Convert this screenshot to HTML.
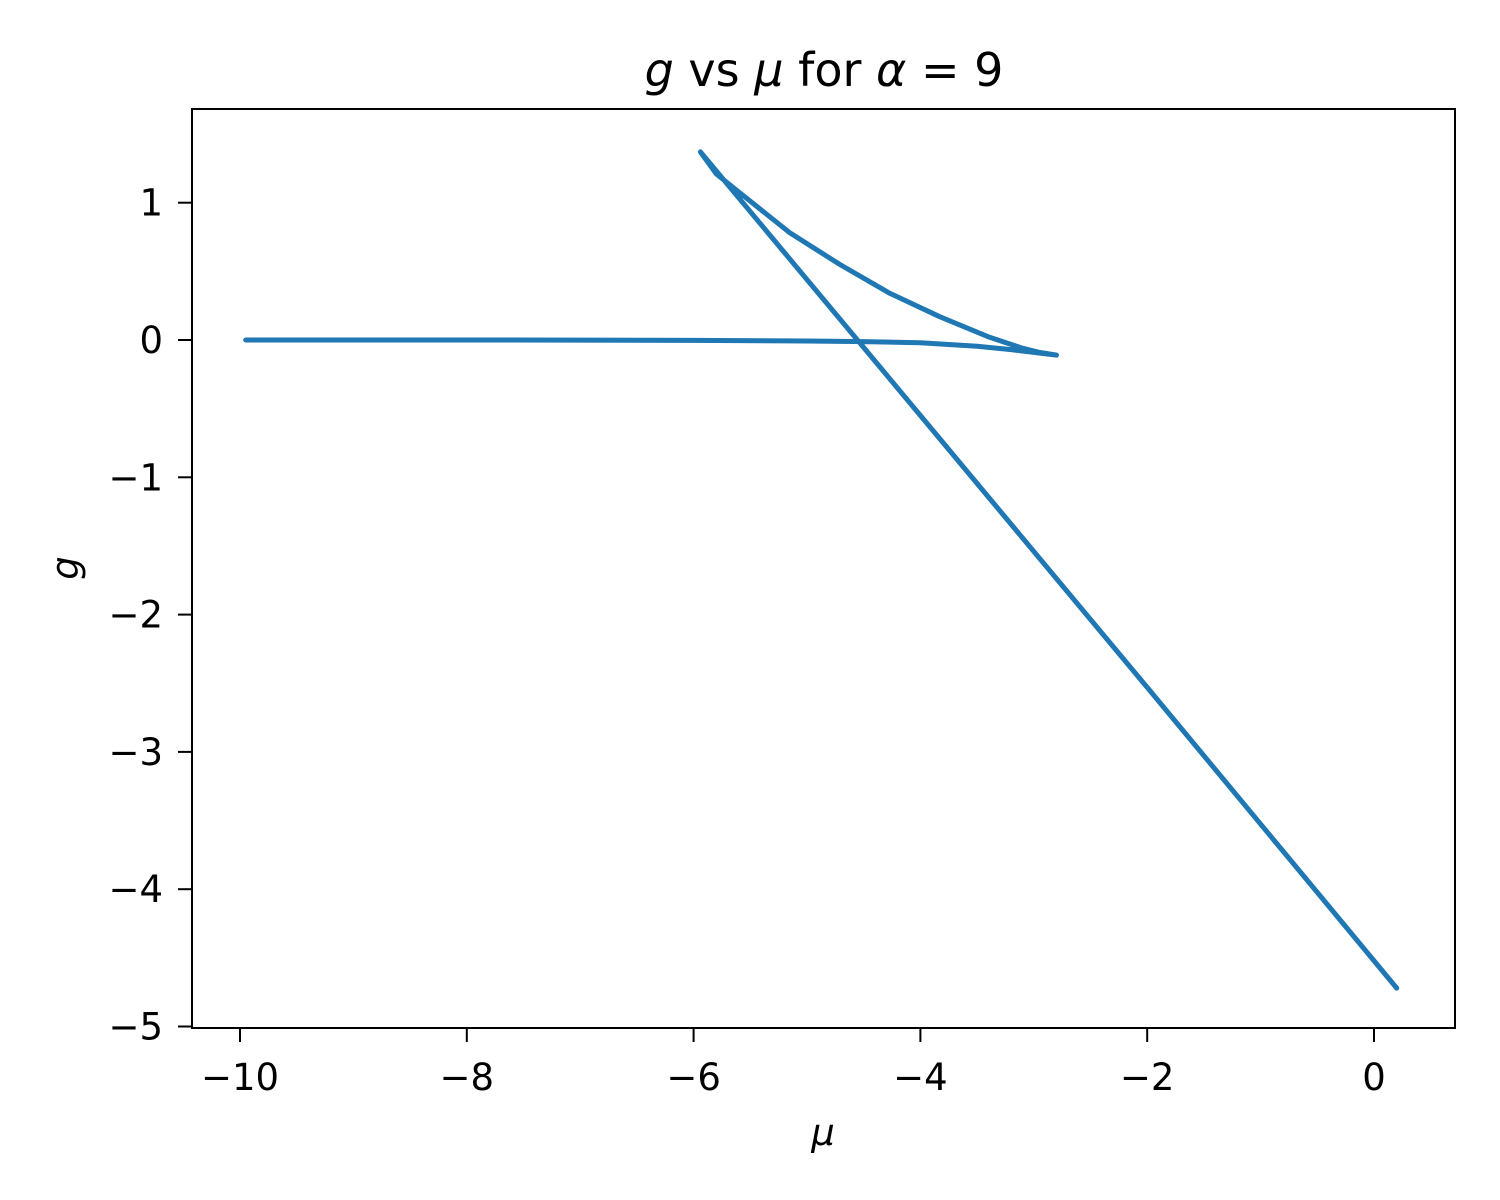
<!DOCTYPE html>
<html><head><meta charset="utf-8"><style>
body{margin:0;background:#fff;}
svg{display:block;font-family:"DejaVu Sans","Liberation Sans",sans-serif;}
</style></head><body>
<svg id="chart" width="1500" height="1200" viewBox="0 0 1500 1200">
<rect width="1500" height="1200" fill="#fff"/>
<g id="ticks"></g>
<path id="curve" fill="none" stroke="#1f77b4" stroke-width="5" stroke-linejoin="round" stroke-linecap="round"/>
<rect x="192" y="109" width="1263" height="919" fill="none" stroke="#000" stroke-width="2"/>
<text x="824" y="86" font-size="46" text-anchor="middle"><tspan font-style="italic">g</tspan> vs <tspan font-style="italic">μ</tspan> for <tspan font-style="italic">α</tspan> = 9</text>
<text x="823" y="1145" font-size="37" text-anchor="middle" font-style="italic">μ</text>
<text x="0" y="0" font-size="37" text-anchor="middle" font-style="italic" transform="translate(78,568) rotate(-90)">g</text>
</svg>
<script>
const xTicks=[-10,-8,-6,-4,-2,0];
const yTicks=[1,0,-1,-2,-3,-4,-5];
const muVals=[-9.95,-8,-7,-6,-5,-4.5,-4,-3.5,-3.2,-2.8,-2.95,-3.1,-3.39,-3.83,-4.27,-4.71,-5.15,-5.59,-5.8,-5.94,-4,-2,0.2];
const gVals=[0,0,-0.001,-0.003,-0.007,-0.012,-0.02,-0.045,-0.07,-0.11,-0.09,-0.06,0.02,0.17,0.34,0.55,0.78,1.07,1.21,1.37,-0.55,-2.53,-4.72];
function X(v){return 240+(v+10)*113.4;}
function Y(v){return 340-v*137.3;}
const NS="http://www.w3.org/2000/svg";
const tg=document.getElementById('ticks');
xTicks.forEach(t=>{
  const l=document.createElementNS(NS,'line');
  
  
  l.setAttribute('x1',X(t));l.setAttribute('x2',X(t));l.setAttribute('y1',1028);l.setAttribute('y2',1042);l.setAttribute('stroke','#000');l.setAttribute('stroke-width','2');
  tg.appendChild(l);
  const tx=document.createElementNS(NS,'text');
  
  
  tx.setAttribute('x',X(t));tx.setAttribute('y',1090);tx.setAttribute('font-size','37');tx.setAttribute('text-anchor','middle');
  tx.textContent=(t<0?'−':'')+Math.abs(t);
  tg.appendChild(tx);
});
yTicks.forEach(t=>{
  const l=document.createElementNS(NS,'line');
  
  
  l.setAttribute('x1',178);l.setAttribute('x2',192);l.setAttribute('y1',Y(t));l.setAttribute('y2',Y(t));l.setAttribute('stroke','#000');l.setAttribute('stroke-width','2');
  tg.appendChild(l);
  const tx=document.createElementNS(NS,'text');
  
  
  tx.setAttribute('x',163);tx.setAttribute('y',Y(t)+13);tx.setAttribute('font-size','37');tx.setAttribute('text-anchor','end');
  tx.textContent=(t<0?'−':'')+Math.abs(t);
  tg.appendChild(tx);
});
let d='';
muVals.forEach((m,i)=>{d+=(i?'L':'M')+X(m).toFixed(1)+','+Y(gVals[i]).toFixed(1);});
document.getElementById('curve').setAttribute('d',d);
</script>
</body></html>
